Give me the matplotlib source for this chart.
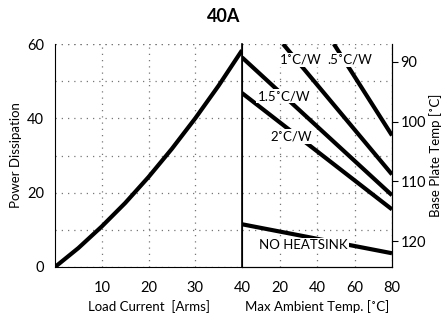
import numpy as np
import matplotlib
matplotlib.use("Agg")
import matplotlib.pyplot as plt

plt.rcParams['font.family'] = ['Lato', 'DejaVu Sans']

# left panel: power dissipation vs load current
current = [0, 5, 10, 15, 20, 25, 30, 35, 40]
power = [0, 5.1, 10.9, 17.2, 24.2, 31.8, 40.0, 48.8, 58.3]

# right panel: derating lines vs ambient temperature
sink_labels = ['NO HEATSINK', '2˚C/W', '1.5˚C/W', '1˚C/W', '.5˚C/W']
sink_amb = [[0, 80], [0, 80], [0, 80], [21.9, 80], [49, 80]]
sink_power = [[11.5, 3.7], [46.8, 15.5], [56.4, 19.3], [60, 24.9], [60, 35.4]]
label_pos = [(32.5, 5.8), (26.1, 35.2), (22.4, 46.0), (31.5, 55.7), (57.6, 55.7)]

plate_ticks = [90, 100, 110, 120]

fig = plt.figure(figsize=(4.48, 3.16), dpi=100)
ax1 = fig.add_axes([55/448, 49/316, 187/448, 223/316])
ax2 = fig.add_axes([242/448, 49/316, 150/448, 223/316])

grid_kw = dict(color='#777777', linestyle=(0, (1, 4)), linewidth=0.9)

for ax in (ax1, ax2):
    ax.set_ylim(0, 60)
    ax.spines['top'].set_visible(False)
    ax.grid(True, **grid_kw)
    ax.set_axisbelow(True)
    ax.tick_params(length=0, labelsize=10.5)
    ax.axhline(60, **grid_kw)

ax1.plot(current, power, color='black', lw=3, solid_capstyle='butt')
ax1.set_xlim(0, 40)
ax1.set_xticks([10, 20, 30, 40])
ax1.set_yticks([0, 20, 40, 60])
ax1.set_yticks([10, 30, 50], minor=True)
ax1.grid(True, which='minor', axis='y', **grid_kw)
ax1.tick_params(axis='y', which='both', length=0, pad=8)
ax1.tick_params(axis='x', pad=10)
ax1.spines['right'].set_visible(False)
ax1.set_xlabel('Load Current  [Arms]', fontsize=9.5, labelpad=4)
ax1.set_ylabel('Power Dissipation', fontsize=9.5)
ax1.yaxis.set_label_coords(-0.175, 0.5)

for amb, pw in zip(sink_amb, sink_power):
    ax2.plot(amb, pw, color='black', lw=3, solid_capstyle='butt')
for lab, (xx, yy) in zip(sink_labels, label_pos):
    ax2.text(xx, yy, lab, fontsize=9.5, ha='center', va='center',
             bbox=dict(facecolor='white', edgecolor='none', pad=1))
ax2.set_xlim(0, 80)
ax2.set_xticks([20, 40, 60, 80])
ax2.set_yticks([10, 20, 30, 40, 50])
ax2.yaxis.set_ticklabels([])
ax2.tick_params(axis='x', pad=10)
ax2.spines['left'].set_linewidth(1.2)
ax2.set_xlabel('Max Ambient Temp. [˚C]', fontsize=9.5, labelpad=4)

ax3 = ax2.twinx()
ax3.set_ylim(124.3, 87.04)
ax3.set_yticks(plate_ticks)
ax3.tick_params(length=4, labelsize=10.5, pad=2)
ax3.spines['top'].set_visible(False)
ax3.set_ylabel('Base Plate Temp [˚C]', fontsize=9.5)
ax3.yaxis.set_label_coords(1.25, 0.5)

fig.suptitle('40A', fontsize=13, fontweight='bold', x=224/448, y=1 - 17/316, va='center')

fig.savefig('out.png', dpi=100)
